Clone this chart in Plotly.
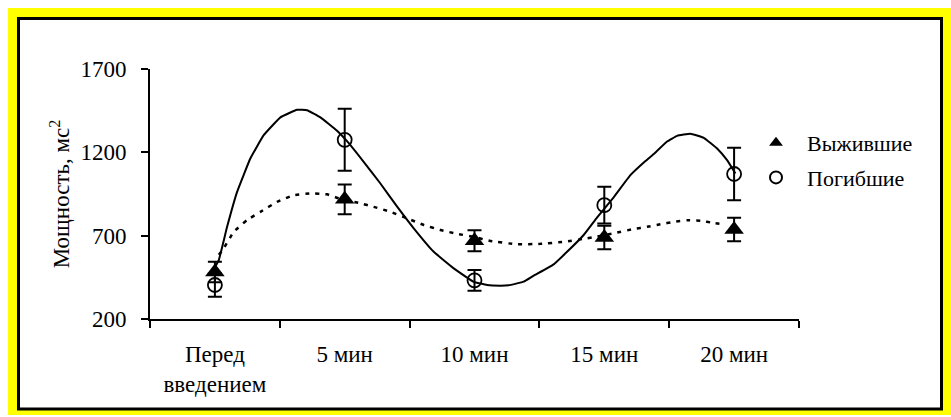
import plotly.graph_objects as go

# Time points
categories = ["Перед<br>введением", "5 мин", "10 мин", "15 мин", "20 мин"]
positions = [0, 1, 2, 3, 4]

# Mean power and error for each group
survived = [482, 918, 670, 689, 737]
survived_err = [62, 89, 63, 70, 70]
died = [404, 1275, 432, 883, 1070]
died_err = [70, 186, 62, 110, 158]

# Smoothed trend curves (position on the time axis, power)
died_trend_x = [0.0, 0.03, 0.094, 0.171, 0.273, 0.376, 0.505, 0.633, 0.71, 0.813, 0.941,
                1.018, 1.146, 1.275, 1.404, 1.532, 1.686, 1.84, 1.994, 2.097, 2.2, 2.263,
                2.379, 2.456, 2.61, 2.713, 2.841, 2.945, 3.072, 3.201, 3.317, 3.381, 3.484,
                3.561, 3.663, 3.766, 3.869, 3.946, 4.01]
died_trend_y = [510, 553, 753, 963, 1163, 1303, 1410, 1455, 1453, 1410, 1330,
                1267, 1143, 1013, 874, 744, 603, 504, 423, 404, 400, 402,
                424, 460, 528, 603, 704, 810, 930, 1063, 1148, 1190, 1265,
                1299, 1312, 1287, 1223, 1153, 1073]
survived_trend_x = [0.03, 0.068, 0.145, 0.248, 0.351, 0.479, 0.607, 0.736, 0.864, 0.954,
                    1.121, 1.223, 1.352, 1.481, 1.609, 1.737, 1.866, 1.994, 2.122, 2.328,
                    2.508, 2.687, 2.867, 3.072, 3.226, 3.33, 3.432, 3.535, 3.638, 3.74,
                    3.843, 3.92]
survived_trend_y = [585, 624, 723, 794, 843, 903, 943, 954, 948, 924,
                    894, 873, 843, 804, 764, 734, 711, 693, 668, 648,
                    651, 663, 684, 714, 740, 753, 768, 783, 792, 790,
                    776, 768]

y_ticks = [200, 700, 1200, 1700]

FONT = "Liberation Serif"
W, H = 951, 417
ML, MR, MT, MB = 150, 152, 69, 98
PW, PH = W - ML - MR, H - MT - MB


def px_x(p):
    return (p - ML) / PW


def px_y(p):
    return (H - MB - p) / PH


fig = go.Figure()

fig.add_trace(go.Scatter(
    x=died_trend_x, y=died_trend_y, mode="lines",
    line=dict(color="black", width=2, shape="spline", smoothing=0.3),
    showlegend=False, hoverinfo="skip"))
fig.add_trace(go.Scatter(
    x=survived_trend_x, y=survived_trend_y, mode="lines",
    line=dict(color="black", width=2.5, dash="4px,6px", shape="spline", smoothing=0.3),
    showlegend=False, hoverinfo="skip"))

fig.add_trace(go.Scatter(
    x=positions, y=survived, mode="markers", name="\u00a0\u00a0Выжившие",
    legendgroup="a",
    marker=dict(symbol="triangle-up", size=17, color="black"),
    error_y=dict(type="data", array=survived_err, color="black", thickness=2, width=7)))
fig.add_trace(go.Scatter(
    x=positions, y=died, mode="markers", name="\u00a0\u00a0Погибшие",
    legendgroup="b",
    marker=dict(symbol="circle-open", size=14, color="black", line=dict(width=1.8)),
    error_y=dict(type="data", array=died_err, color="black", thickness=2, width=7)))

# yellow border with a black inner frame
fig.add_shape(type="rect", xref="paper", yref="paper", layer="below",
              x0=px_x(8), x1=px_x(951), y0=px_y(415), y1=px_y(8),
              fillcolor="#ffff00", line=dict(width=0))
fig.add_shape(type="rect", xref="paper", yref="paper", layer="below",
              x0=px_x(18.5), x1=px_x(941.5), y0=px_y(409), y1=px_y(18.5),
              fillcolor="white", line=dict(color="black", width=3))

fig.update_layout(
    width=W, height=H,
    margin=dict(l=ML, r=MR, t=MT, b=MB),
    paper_bgcolor="white", plot_bgcolor="rgba(0,0,0,0)",
    font=dict(family=FONT, size=22, color="black"),
    showlegend=True,
    legend=dict(x=px_x(756), y=px_y(122), xanchor="left", yanchor="top",
                bgcolor="rgba(0,0,0,0)", font=dict(family=FONT, size=22),
                itemsizing="constant", tracegroupgap=3),
)

fig.update_xaxes(
    range=[-0.5, 4.5], tickvals=positions, ticktext=categories,
    ticks="", showline=True, linecolor="black", linewidth=2,
    showgrid=False, zeroline=False, ticklabelstandoff=13,
    tickfont=dict(family=FONT, size=23),
    minor=dict(tickvals=[-0.5, 0.5, 1.5, 2.5, 3.5, 4.5], ticks="outside",
               ticklen=7, tickwidth=2, tickcolor="black", showgrid=False),
)
fig.update_yaxes(
    range=[200, 1700], tickvals=y_ticks, ticks="outside", ticklen=7, tickwidth=2,
    tickcolor="black", showline=True, linecolor="black", linewidth=2,
    showgrid=False, zeroline=False, ticklabelstandoff=10,
    tickfont=dict(family=FONT, size=23),
    title=dict(text="Мощность, мс<sup>2</sup>", standoff=4,
               font=dict(family=FONT, size=23)),
)

fig.write_html("out.html")
